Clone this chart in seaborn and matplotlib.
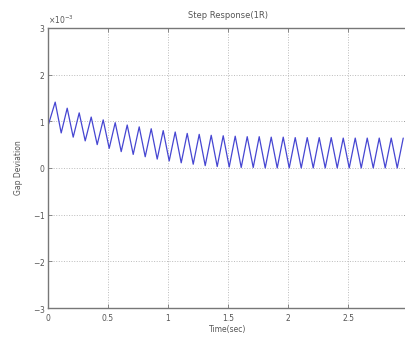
import numpy as np
import pandas as pd
import matplotlib
matplotlib.use("Agg")
import matplotlib.pyplot as plt
import matplotlib.ticker as mticker
import seaborn as sns

# values (units of 1e-3)
start_t = [0.0]
start_v = [0.90]

peak_t = [0.06, 0.16, 0.26, 0.36, 0.46, 0.56, 0.66, 0.76, 0.86, 0.96,
          1.06, 1.16, 1.26, 1.36, 1.46, 1.56, 1.66, 1.76, 1.86, 1.96,
          2.06, 2.16, 2.26, 2.36, 2.46, 2.56, 2.66, 2.76, 2.86, 2.96]
peak_v = [1.41, 1.28, 1.18, 1.09, 1.03, 0.97, 0.92, 0.88, 0.84, 0.80,
          0.77, 0.74, 0.72, 0.70, 0.69, 0.68, 0.67, 0.67, 0.66, 0.66,
          0.65, 0.65, 0.65, 0.65, 0.64, 0.64, 0.64, 0.64, 0.64, 0.64]

trough_t = [0.11, 0.21, 0.31, 0.41, 0.51, 0.61, 0.71, 0.81, 0.91, 1.01,
            1.11, 1.21, 1.31, 1.41, 1.51, 1.61, 1.71, 1.81, 1.91, 2.01,
            2.11, 2.21, 2.31, 2.41, 2.51, 2.61, 2.71, 2.81, 2.91]
trough_v = [0.75, 0.66, 0.58, 0.50, 0.42, 0.35, 0.29, 0.24, 0.19, 0.15,
            0.11, 0.08, 0.05, 0.03, 0.02, 0.01, 0.01, 0.00, 0.00, 0.00,
            0.00, 0.00, 0.00, 0.00, 0.00, 0.00, 0.00, 0.00, 0.00]

x_ticks = [0, 0.5, 1, 1.5, 2, 2.5, 3]
x_labels = ['0', '0.5', '1', '1.5', '2', '2.5', '']
y_ticks = [-3, -2, -1, 0, 1, 2, 3]

# interleave peaks and troughs into one curve
t = list(start_t)
v = list(start_v)
for i in range(len(peak_t)):
    t.append(peak_t[i]); v.append(peak_v[i])
    if i < len(trough_t):
        t.append(trough_t[i]); v.append(trough_v[i])
df = pd.DataFrame({'time': t, 'gap': np.array(v) * 1e-3})

sns.set_theme(style="ticks")
plt.rcParams['font.family'] = ['DejaVu Sans']
fig = plt.figure(figsize=(4.05, 3.4), dpi=100)
ax = fig.add_axes([0.1185, 0.094, 0.889, 0.824])

sns.lineplot(x='time', y='gap', data=df, ax=ax, color='#4646d2',
             linewidth=0.9, estimator=None, sort=False)

ax.set_xlim(0, 3)
ax.set_ylim(-3e-3, 3e-3)
ax.set_xticks(x_ticks)
ax.set_xticklabels(x_labels)
ax.set_yticks([y * 1e-3 for y in y_ticks])
fmt = mticker.ScalarFormatter(useMathText=True)
fmt.set_powerlimits((-2, 2))
ax.yaxis.set_major_formatter(fmt)
ax.yaxis.get_offset_text().set_fontsize(5.5)
ax.yaxis.get_offset_text().set_color('#555555')

ax.grid(True, linestyle=':', color='#bbbbbb', linewidth=0.7)
for s in ax.spines.values():
    s.set_color('#777777')
    s.set_linewidth(1.0)
ax.tick_params(direction='in', length=3, width=0.6, colors='#777777',
               labelsize=5.5, labelcolor='#555555', top=True, right=True, pad=2)
ax.tick_params(axis='x', pad=4)

ax.set_title('Step Response(1R)', fontsize=6, color='#555555', pad=7)
ax.set_xlabel('Time(sec)', fontsize=5.5, color='#555555', labelpad=2)
ax.set_ylabel('Gap Deviation', fontsize=5.5, color='#555555', labelpad=7)

fig.savefig('out.png', dpi=100)
